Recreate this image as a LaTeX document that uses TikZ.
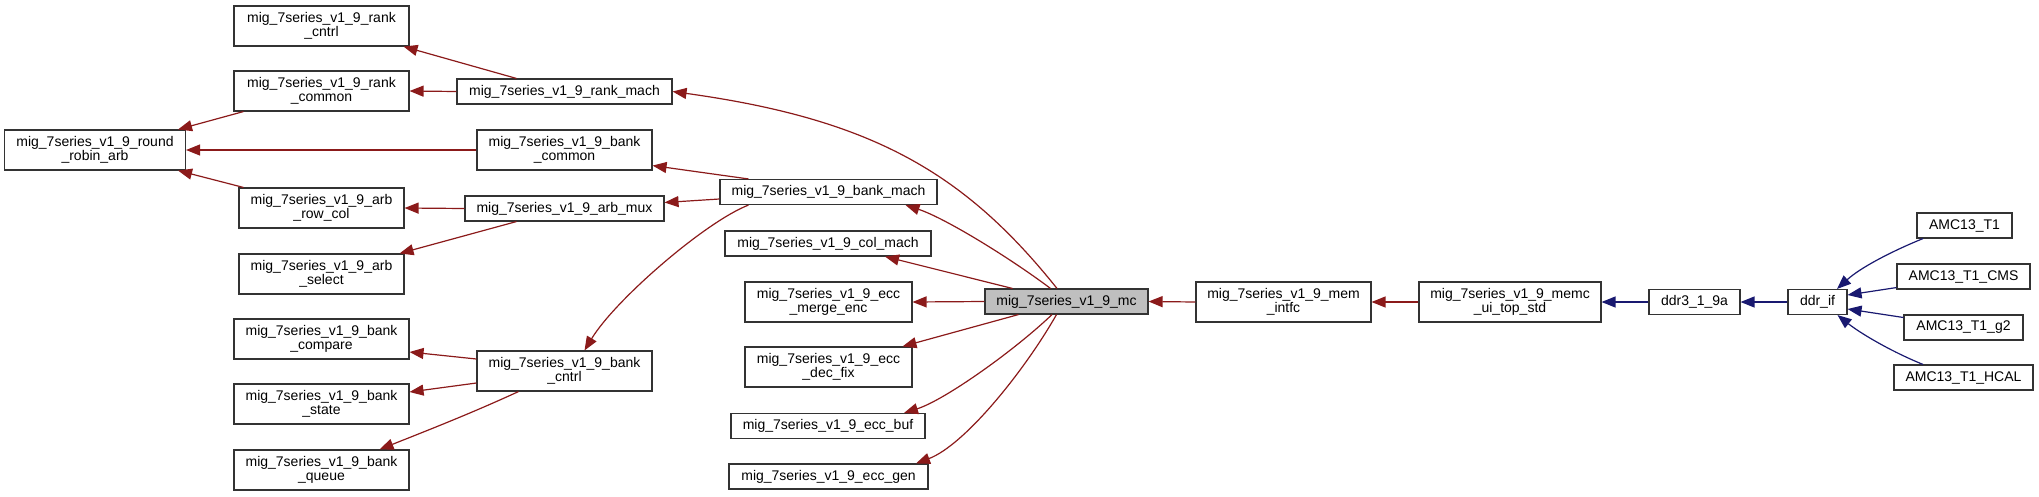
\documentclass[tikz,border=0pt]{standalone}
\usepackage{fontspec}
\setmainfont{Liberation Sans}
\usetikzlibrary{arrows.meta}
\definecolor{edgered}{HTML}{8B1A1A}
\definecolor{edgeblue}{HTML}{191970}
\definecolor{mcgray}{HTML}{BFBFBF}
\begin{document}
\begin{tikzpicture}[x=1pt,y=-1pt,
  box/.style={draw=black!80, line width=1.1pt, rectangle, inner sep=0pt, align=center,
    font=\fontsize{14}{13.6}\selectfont, fill=white},
  one/.style={box, minimum height=25pt},
  two/.style={box, minimum height=40pt},
  redge/.style={draw=edgered, line width=1.2pt, -{Triangle[length=14pt,width=11pt]}},
  bedge/.style={draw=edgeblue, line width=1.2pt, -{Triangle[length=14pt,width=11pt]}}]
\useasboundingbox (0,0) rectangle (2039,496);

% column 1
\node[two, minimum width=181pt] (rra) at (95,150) {mig\_7series\_v1\_9\_round\\\_robin\_arb};
% column 2
\node[two, minimum width=175pt] (rankcntrl) at (321.5,26) {mig\_7series\_v1\_9\_rank\\\_cntrl};
\node[two, minimum width=175pt] (rankcommon) at (321.5,91) {mig\_7series\_v1\_9\_rank\\\_common};
\node[two, minimum width=165pt] (arbrowcol) at (321.5,208) {mig\_7series\_v1\_9\_arb\\\_row\_col};
\node[two, minimum width=165pt] (arbselect) at (321.5,274) {mig\_7series\_v1\_9\_arb\\\_select};
\node[two, minimum width=175pt] (bankcompare) at (321.5,339) {mig\_7series\_v1\_9\_bank\\\_compare};
\node[two, minimum width=175pt] (bankstate) at (321.5,404) {mig\_7series\_v1\_9\_bank\\\_state};
\node[two, minimum width=175pt] (bankqueue) at (321.5,470) {mig\_7series\_v1\_9\_bank\\\_queue};
% column 3
\node[one, minimum width=215pt] (rankmach) at (564.5,91.5) {mig\_7series\_v1\_9\_rank\_mach};
\node[two, minimum width=175pt] (bankcommon) at (564.5,150) {mig\_7series\_v1\_9\_bank\\\_common};
\node[one, minimum width=199pt] (arbmux) at (564.5,208.5) {mig\_7series\_v1\_9\_arb\_mux};
\node[two, minimum width=175pt] (bankcntrl) at (564.5,371) {mig\_7series\_v1\_9\_bank\\\_cntrl};
% column 4
\node[one, minimum width=217pt] (bankmach) at (828.5,192) {mig\_7series\_v1\_9\_bank\_mach};
\node[one, minimum width=206pt] (colmach) at (828,243.5) {mig\_7series\_v1\_9\_col\_mach};
\node[two, minimum width=167pt] (eccmerge) at (828.5,302) {mig\_7series\_v1\_9\_ecc\\\_merge\_enc};
\node[two, minimum width=167pt] (eccdec) at (828.5,367) {mig\_7series\_v1\_9\_ecc\\\_dec\_fix};
\node[one, minimum width=194pt] (eccbuf) at (828,426) {mig\_7series\_v1\_9\_ecc\_buf};
\node[one, minimum width=199pt] (eccgen) at (828.5,476.5) {mig\_7series\_v1\_9\_ecc\_gen};
% chain
\node[one, minimum width=163pt, fill=mcgray] (mc) at (1066.5,301.5) {mig\_7series\_v1\_9\_mc};
\node[two, minimum width=175pt] (memintfc) at (1283.5,302) {mig\_7series\_v1\_9\_mem\\\_intfc};
\node[two, minimum width=182pt] (memc) at (1510,302) {mig\_7series\_v1\_9\_memc\\\_ui\_top\_std};
\node[one, minimum width=91pt] (ddr3) at (1694.5,302) {ddr3\_1\_9a};
\node[one, minimum width=59pt] (ddrif) at (1817.5,302) {ddr\_if};
\node[one, minimum width=95pt] (t1) at (1964.5,225.5) {AMC13\_T1};
\node[one, minimum width=133pt] (cms) at (1963.5,276.5) {AMC13\_T1\_CMS};
\node[one, minimum width=119pt] (g2) at (1963.5,327.5) {AMC13\_T1\_g2};
\node[one, minimum width=139pt] (hcal) at (1963.5,377.5) {AMC13\_T1\_HCAL};

% red edges
\draw[redge] ([xshift=-48pt]rankmach.north) -- ([xshift=-6pt]rankcntrl.south east);
\draw[redge] (rankmach.west) -- (rankcommon.east);
\draw[redge] ([xshift=-78pt]rankcommon.south) -- ([xshift=-8pt]rra.north east);
\draw[redge] (bankcommon.west) -- (rra.east);
\draw[redge] ([xshift=-78pt]arbrowcol.north) -- ([xshift=-8pt]rra.south east);
\draw[redge] (arbmux.west) -- (arbrowcol.east);
\draw[redge] ([xshift=-48pt]arbmux.south) -- ([xshift=-5pt]arbselect.north east);
\draw[redge] ([xshift=-80pt]bankmach.north) -- ([yshift=5pt]bankcommon.south east);
\draw[redge] ([yshift=-7pt]bankmach.west) -- ([yshift=6pt]arbmux.east);
\draw[redge] ([xshift=-80pt]bankmach.south) .. controls (705,222) and (615,300) .. ([xshift=20pt]bankcntrl.north);
\draw[redge] ([yshift=12pt]bankcntrl.west) -- ([yshift=-13pt]bankcompare.east);
\draw[redge] ([yshift=-12pt]bankcntrl.west) -- ([yshift=12pt]bankstate.east);
\draw[redge] ([xshift=-46pt]bankcntrl.south) .. controls (472,413) and (426,431) .. ([xshift=58pt]bankqueue.north);
\draw[redge] ([xshift=-9.5pt]mc.north) .. controls (964,172) and (871,119) .. (rankmach.east);
\draw[redge] ([xshift=-16pt]mc.north) .. controls (1010,258) and (945,218) .. ([xshift=77pt]bankmach.south);
\draw[redge] ([xshift=-54pt]mc.north) -- ([xshift=57pt]colmach.south);
\draw[redge] (mc.west) -- (eccmerge.east);
\draw[redge] ([xshift=-48pt]mc.south) -- ([xshift=74pt]eccdec.north);
\draw[redge] ([xshift=-14.5pt]mc.south) .. controls (1015,350) and (945,400) .. ([xshift=76pt]eccbuf.north);
\draw[redge] ([xshift=-10pt]mc.south) .. controls (1025,370) and (965,445) .. ([xshift=87.5pt]eccgen.north);
\draw[redge] (memintfc.west) -- (mc.east);
\draw[redge] (memc.west) -- (memintfc.east);
% blue edges
\draw[bedge] (ddr3.west) -- (memc.east);
\draw[bedge] (ddrif.west) -- (ddr3.east);
\draw[bedge] ([xshift=-41.5pt]t1.south) .. controls (1890,252) and (1860,268) .. ([xshift=19.5pt]ddrif.north);
\draw[bedge] ([yshift=2pt]cms.south west) -- ([yshift=7pt]ddrif.east);
\draw[bedge] ([yshift=10pt]g2.west) -- ([yshift=-7pt]ddrif.east);
\draw[bedge] ([xshift=-40.5pt]hcal.north) .. controls (1890,351) and (1860,333) .. ([xshift=20pt]ddrif.south);
\end{tikzpicture}
\end{document}
